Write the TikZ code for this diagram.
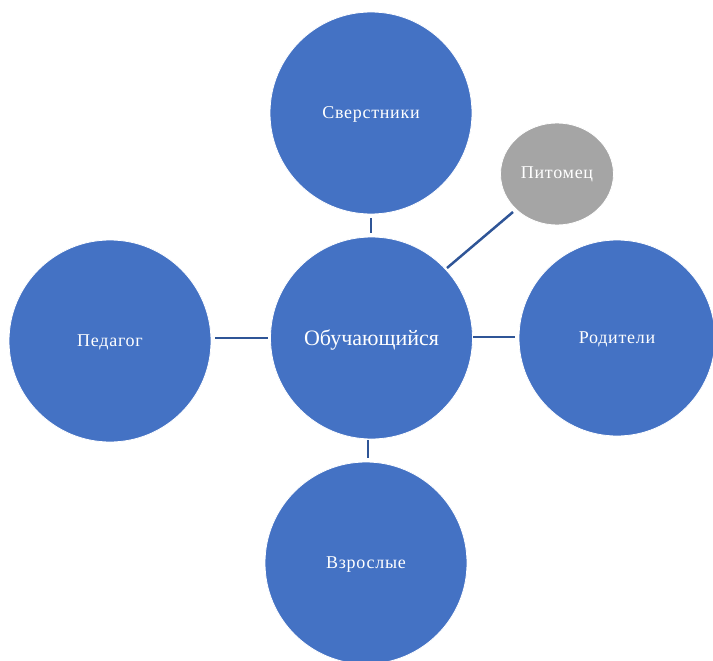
\documentclass[tikz,border=0pt]{standalone}
\usepackage{fontspec}
\setmainfont{Liberation Serif}
\usetikzlibrary{shapes.geometric}
\definecolor{blu}{HTML}{4472C4}
\definecolor{lin}{HTML}{2F5597}
\definecolor{gry}{HTML}{A5A5A5}
\newfontfamily\labfont[LetterSpace=4]{Liberation Serif}
\begin{document}
\begin{tikzpicture}[x=1pt,y=-1pt,
  bub/.style={circle,fill=blu,draw=white,line width=0.8pt,minimum size=202pt,inner sep=0pt,text=white,text depth=1pt,font=\labfont\fontsize{18}{21}\selectfont},
  pet/.style={ellipse,fill=gry,draw=white,line width=0.8pt,minimum width=113pt,minimum height=102pt,inner sep=0pt,text=white,font=\labfont\fontsize{18}{21}\selectfont},
  con/.style={draw=lin,line width=2.5pt}]
\useasboundingbox (0,0) rectangle (713,661);
\node[bub] (sv) at (371,113) {Сверстники};
\node[bub,font=\rmfamily\fontsize{22}{26}\selectfont] (ob) at (371.5,338) {Обучающийся};
\node[bub] (pe) at (110,341) {Педагог};
\node[bub,minimum size=196pt] (ro) at (617,338) {Родители};
\node[bub] (vz) at (366,563) {Взрослые};
\node[pet] (pi) at (557,174) {Питомец};
\coordinate (t1) at (371,218); \coordinate (t2) at (371,233);
\coordinate (l1) at (215,338); \coordinate (l2) at (268,338);
\coordinate (r1) at (473,337); \coordinate (r2) at (515,337);
\coordinate (b1) at (368,440); \coordinate (b2) at (368,458);
\coordinate (d1) at (447,268); \coordinate (d2) at (513,212);
\draw[con] (t1) -- (t2);
\draw[con] (l1) -- (l2);
\draw[con] (r1) -- (r2);
\draw[con] (b1) -- (b2);
\draw[con] (d1) -- (d2);
\end{tikzpicture}
\end{document}
